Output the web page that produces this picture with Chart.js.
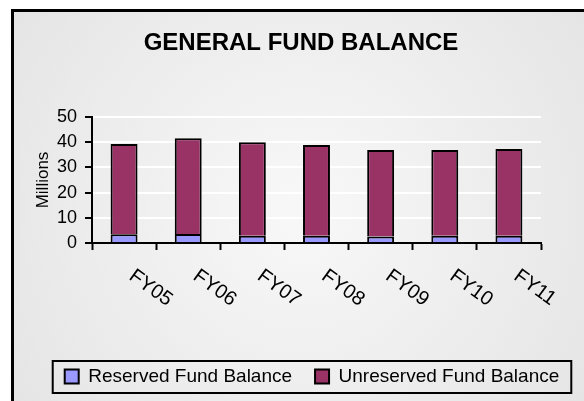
<!DOCTYPE html>
<html>
<head>
<meta charset="utf-8">
<title>General Fund Balance</title>
<script src="https://cdn.jsdelivr.net/npm/chart.js@4.4.1/dist/chart.umd.min.js"></script>
<style>
  html, body { margin: 0; padding: 0; background: #fff; }
  canvas { display: block; }
</style>
</head>
<body>
<canvas id="chart" width="584" height="401"></canvas>
<script>
// values (millions)
const years = ["FY05", "FY06", "FY07", "FY08", "FY09", "FY10", "FY11"];
const reserved = [3.5, 3.6, 2.9, 2.9, 2.6, 2.9, 2.9];
const unreserved = [35.8, 38.0, 37.1, 36.0, 34.3, 34.0, 34.4];
const yTicks = [0, 10, 20, 30, 40, 50];

const FONT = '"Liberation Sans", Arial, sans-serif';
Chart.defaults.font.family = FONT;
Chart.defaults.color = "#000";

// grey panel with the black frame on the top and left
const panel = {
  id: "panel",
  beforeDraw(chart) {
    const { ctx, width, height } = chart;
    ctx.save();
    ctx.fillStyle = "#fff";
    ctx.fillRect(0, 0, width, height);
    const g = ctx.createRadialGradient(300, 210, 20, 300, 210, 380);
    g.addColorStop(0, "#f7f7f7");
    g.addColorStop(1, "#e3e3e3");
    ctx.fillStyle = g;
    ctx.fillRect(11, 9, width - 11, height - 9);
    ctx.fillStyle = "#000";
    ctx.fillRect(11, 9, width - 11, 3);
    ctx.fillRect(11, 9, 3, height - 9);
    ctx.restore();
  },
};

// slanted category labels, starting just right of each bar
const slantedLabels = {
  id: "slantedLabels",
  afterDraw(chart) {
    const { ctx } = chart;
    const xs = chart.scales.x;
    ctx.save();
    ctx.font = "20px " + FONT;
    ctx.fillStyle = "#000";
    ctx.textAlign = "left";
    ctx.textBaseline = "top";
    years.forEach((label, i) => {
      ctx.save();
      ctx.translate(xs.getPixelForValue(i) + 13, xs.top + 23);
      ctx.rotate((36 * Math.PI) / 180);
      ctx.fillText(label, 0, 0);
      ctx.restore();
    });
    ctx.restore();
  },
};

// legend sits a bit right of centre in the original, with a box round it
const legendBox = {
  id: "legendBox",
  afterLayout(chart) {
    chart.legend.left += 11;
    chart.legend.right += 11;
  },
  afterDraw(chart) {
    const { ctx } = chart;
    const lg = chart.legend;
    const pad = lg.options.labels.padding;
    const w = lg.lineWidths[0] - pad;
    const cx = (lg.left + lg.right) / 2;
    const cy = lg.top + pad + 10;
    ctx.save();
    ctx.strokeStyle = "#000";
    ctx.lineWidth = 2;
    ctx.strokeRect(cx - w / 2 - 12, cy - 16, w + 24, 32);
    ctx.restore();
  },
};

new Chart(document.getElementById("chart"), {
  type: "bar",
  data: {
    labels: years,
    datasets: [
      {
        label: "Reserved Fund Balance",
        data: reserved,
        backgroundColor: "#9999ff",
        borderColor: "#000",
        borderWidth: 2,
        barPercentage: 0.42,
        categoryPercentage: 1,
      },
      {
        label: "Unreserved Fund Balance",
        data: unreserved,
        backgroundColor: "#993366",
        borderColor: "#000",
        borderWidth: 2,
        barPercentage: 0.42,
        categoryPercentage: 1,
      },
    ],
  },
  options: {
    responsive: false,
    animation: false,
    events: [],
    layout: { padding: { left: 18, right: 0, top: 0, bottom: 5 } },
    plugins: {
      title: {
        display: true,
        text: "GENERAL FUND BALANCE",
        color: "#000",
        font: { size: 24, weight: "bold" },
        padding: { top: 29, bottom: 59.2 },
      },
      legend: {
        position: "bottom",
        labels: {
          color: "#000",
          font: { size: 19 },
          boxWidth: 14,
          boxHeight: 14,
          padding: 23,
        },
      },
      tooltip: { enabled: false },
    },
    scales: {
      x: {
        stacked: true,
        offset: true,
        grid: {
          offset: true,
          drawOnChartArea: false,
          tickLength: 7,
          tickColor: "#000",
          tickWidth: 2,
        },
        border: { color: "#000", width: 2 },
        ticks: { display: false },
        afterFit: (s) => { s.height = 101; },
      },
      y: {
        stacked: true,
        min: yTicks[0],
        max: yTicks[yTicks.length - 1],
        ticks: {
          stepSize: yTicks[1] - yTicks[0],
          padding: 8,
          color: "#000",
          font: { size: 18 },
        },
        grid: {
          color: (c) => (c.tick && c.tick.value === 0 ? "rgba(0,0,0,0)" : "#fff"),
          lineWidth: 2,
          tickColor: "#000",
          tickLength: 7,
          tickWidth: 2,
        },
        border: { color: "#000", width: 2 },
        title: {
          display: true,
          text: "Millions",
          color: "#000",
          font: { size: 17 },
          padding: { top: 15, bottom: 0 },
        },
        afterFit: (s) => { s.width = 74; },
      },
      // empty right-hand axis, only to keep the plot's right edge where the original has it
      y2: {
        position: "right",
        grid: { display: false },
        border: { display: false },
        ticks: { display: false },
        afterFit: (s) => { s.width = 43; },
      },
    },
  },
  plugins: [panel, slantedLabels, legendBox],
});
</script>
</body>
</html>
